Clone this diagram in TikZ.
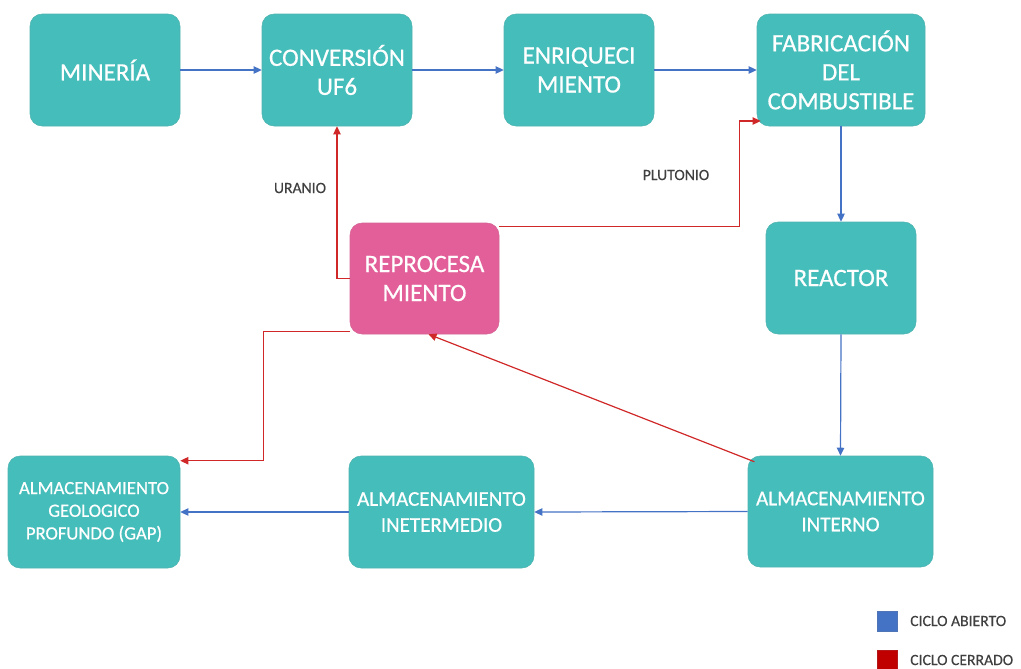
\documentclass[tikz,border=0pt]{standalone}
\usepackage{fontspec}
\setmainfont{Carlito}
\newfontfamily\boxfont[FakeBold=0.6]{Carlito}
\newfontfamily\labfont[FakeBold=0.3]{Carlito}
\usetikzlibrary{arrows.meta}
\definecolor{teal1}{HTML}{45BDBA}
\definecolor{pink1}{HTML}{E35F99}
\definecolor{blueline}{HTML}{4472C4}
\definecolor{redline}{HTML}{D02828}
\definecolor{legred}{HTML}{C00000}
\definecolor{labgray}{HTML}{404040}
\tikzset{
  box/.style={rectangle, rounded corners=9pt, fill=teal1, draw=teal1!85!gray, line width=0.4pt,
    text=white, align=center, inner sep=0pt},
  big/.style={font=\boxfont\fontsize{18.75pt}{21.75pt}\selectfont},
  mid/.style={font=\boxfont\fontsize{15.75pt}{19.5pt}\selectfont},
  small/.style={font=\boxfont\fontsize{14pt}{17pt}\selectfont},
  lab/.style={text=labgray, font=\labfont\fontsize{11.75pt}{13pt}\selectfont, inner sep=0pt},
  bluearr/.style={draw=blueline, line width=0.9pt, -{Triangle[length=6pt,width=5.5pt]}},
  redarr/.style={draw=redline, line width=0.9pt, -{Triangle[length=6pt,width=5.5pt]}},
}
\begin{document}
\begin{tikzpicture}[x=0.75pt,y=-0.75pt]
\useasboundingbox (0,0) rectangle (1021,668);
% boxes
\node[box,big,minimum width=112.5pt,minimum height=84pt] (min) at (105,70) {MINERÍA};
\node[box,big,minimum width=112.5pt,minimum height=84pt] (conv) at (337,70) {CONVERSIÓN\\UF6};
\node[box,big,minimum width=112.5pt,minimum height=84pt] (enr) at (579,70) {ENRIQUECI\\MIENTO};
\node[box,big,minimum width=126pt,minimum height=84pt] (fab) at (841,70) {FABRICACIÓN\\DEL\\COMBUSTIBLE};
\node[box,big,minimum width=112.5pt,minimum height=84pt] (reac) at (841,278) {REACTOR};
\node[box,big,fill=pink1,draw=pink1!85!gray,minimum width=111.75pt,minimum height=83.25pt] (rep) at (424.5,278.5) {REPROCESA\\MIENTO};
\node[box,mid,minimum width=138.75pt,minimum height=83.25pt] (alint) at (840.5,511.5) {ALMACENAMIENTO\\INTERNO};
\node[box,mid,minimum width=138.75pt,minimum height=84pt] (alinter) at (441.5,512) {ALMACENAMIENTO\\INETERMEDIO};
\node[box,small,minimum width=129pt,minimum height=84pt] (gap) at (94,512) {ALMACENAMIENTO\\GEOLOGICO\\PROFUNDO (GAP)};
% open cycle
\draw[bluearr] (min.east) -- (conv.west);
\draw[bluearr] (conv.east) -- (enr.west);
\draw[bluearr] (enr.east) -- (fab.west);
\draw[bluearr] (fab.south) -- (reac.north);
\draw[bluearr] (reac.south) -- (alint.north);
\draw[bluearr] (alint.west) -- (alinter.east);
\draw[bluearr] (alinter.west) -- (gap.east);
% closed cycle
\draw[redarr] (rep.west) -| (conv.south);
\draw[redarr] ([yshift=-3pt]rep.north east) -| ([xshift=-12.75pt,yshift=-38.25pt]fab.west) -- ([xshift=3pt,yshift=-38.25pt]fab.west);
\draw[redarr] ([yshift=2.25pt]rep.south west) -| ([xshift=62.25pt,yshift=-3.75pt]gap.north east) -- ([yshift=-3.75pt]gap.north east);
\draw[redarr] ([xshift=5pt,yshift=-4.5pt]alint.north west) -- ([xshift=3pt]rep.south);
% labels
\node[lab] (ura) at (300,188) {URANIO};
\node[lab] (plu) at (676,175) {PLUTONIO};
% legend
\node[rectangle,fill=blueline,draw=blueline!80!gray,line width=0.3pt,minimum width=15pt,minimum height=15pt,inner sep=0pt] (lb) at (887,621) {};
\node[rectangle,fill=legred,draw=legred!80!gray,line width=0.3pt,minimum width=15pt,minimum height=15pt,inner sep=0pt] (lr) at (887,660) {};
\node[lab,anchor=west] (lbt) at (910,621) {CICLO ABIERTO};
\node[lab,anchor=west] (lrt) at (910,660) {CICLO CERRADO};
\end{tikzpicture}
\end{document}
